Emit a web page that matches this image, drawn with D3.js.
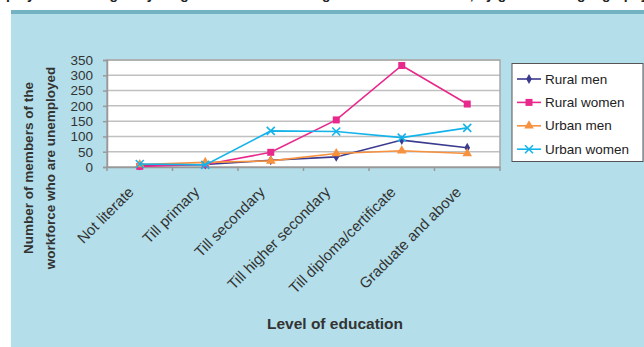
<!DOCTYPE html>
<html><head><meta charset="utf-8">
<script src="https://cdn.jsdelivr.net/npm/d3@7"></script>
<style>body{margin:0;background:#fff;}svg{display:block;font-family:Arial,"Liberation Sans",sans-serif;}</style>
</head><body><svg id="c" width="644" height="347"></svg>
<script>
const categories = ["Not literate","Till primary","Till secondary","Till higher secondary","Till diploma/certificate","Graduate and above"];
const seriesNames = ["Rural men","Rural women","Urban men","Urban women"];
const ruralMen   = [5, 8, 22, 33, 88, 63];
const ruralWomen = [2, 8, 48, 154, 332, 206];
const urbanMen   = [8, 15, 20, 44, 53, 44];
const urbanWomen = [10, 7, 118, 116, 96, 128];
const yTicks = [0,50,100,150,200,250,300,350];
const colors = ["#3A3A8E","#E8288C","#F7913D","#14B4EA"];
const markers = ["diamond","square","triangle","x"];
const seriesVals = [ruralMen, ruralWomen, urbanMen, urbanWomen];

const svg = d3.select("#c");
// background
svg.append("rect").attr("x",11).attr("y",14).attr("width",633).attr("height",333).attr("fill","#B4DFEA");
svg.append("rect").attr("x",11).attr("y",10).attr("width",633).attr("height",4).attr("fill","#73B3C1");
// title, cut off at the top edge as in the reference (only descenders visible)
svg.append("text").attr("x",335).attr("y",-1.5).attr("text-anchor","middle")
  .attr("font-size",14).attr("font-weight","bold").attr("fill","#222")
  .text("Figure 3: Unemployment among the young workforce according to level of education, by gender and geography, 15–29 age group");

const L=107,R=500,T=60,B=167;
const x = d3.scaleBand().domain(categories).range([L,R]);
const y = d3.scaleLinear().domain([0,350]).range([B,T]);

svg.append("rect").attr("x",L).attr("y",T).attr("width",R-L).attr("height",B-T).attr("fill","#fff");
// gridlines
svg.append("g").selectAll("line").data(yTicks.filter(d=>d>0)).join("line")
  .attr("x1",L).attr("x2",R).attr("y1",d=>y(d)).attr("y2",d=>y(d))
  .attr("stroke","#C0C0C0").attr("stroke-width",1.5);
svg.append("rect").attr("x",L).attr("y",T).attr("width",R-L).attr("height",B-T)
  .attr("fill","none").attr("stroke","#A8A8A8").attr("stroke-width",1.5);

// y axis
const ya = svg.append("g").attr("transform",`translate(${L},0)`)
  .call(d3.axisLeft(y).tickValues(yTicks).tickSize(4).tickPadding(10));
ya.select(".domain").attr("stroke","#999").attr("stroke-width",1.5);
ya.selectAll(".tick line").attr("stroke","#999").attr("stroke-width",1.5);
ya.selectAll("text").attr("font-size",13.5).attr("fill","#333").attr("font-family","Arial,'Liberation Sans',sans-serif");

// x axis
const xa = svg.append("g").attr("transform",`translate(0,${B})`)
  .call(d3.axisBottom(x).tickSize(0).tickPadding(0));
xa.select(".domain").attr("stroke","#999").attr("stroke-width",1.5);
xa.selectAll(".tick text").attr("font-size",15).attr("fill","#333")
  .attr("font-family","Arial,'Liberation Sans',sans-serif")
  .attr("text-anchor","end").attr("dy",0)
  .attr("transform","translate(-5,26) rotate(-45)");
// boundary ticks
const bounds = categories.map(c=>x(c)).concat([R]);
svg.append("g").selectAll("line").data(bounds).join("line")
  .attr("x1",d=>d).attr("x2",d=>d).attr("y1",B).attr("y2",B+4)
  .attr("stroke","#999").attr("stroke-width",1.5);

// axis titles
svg.append("text").attr("transform","translate(33,168) rotate(-90)").attr("text-anchor","middle")
  .attr("font-size",13.5).attr("font-weight","bold").attr("fill","#333").text("Number of members of the");
svg.append("text").attr("transform","translate(55,168) rotate(-90)").attr("text-anchor","middle")
  .attr("font-size",13.5).attr("font-weight","bold").attr("fill","#333").text("workforce who are unemployed");
svg.append("text").attr("x",335).attr("y",329).attr("text-anchor","middle")
  .attr("font-size",15.5).attr("font-weight","bold").attr("fill","#333").text("Level of education");

function drawMarker(g, type, cx, cy, color){
  if(type==="diamond"){
    g.append("path").attr("d",d3.symbol(d3.symbolDiamond,28)()).attr("transform",`translate(${cx},${cy})`).attr("fill",color);
  } else if(type==="square"){
    g.append("rect").attr("x",cx-3.5).attr("y",cy-3.5).attr("width",7).attr("height",7).attr("fill",color);
  } else if(type==="triangle"){
    g.append("path").attr("d",d3.symbol(d3.symbolTriangle,40)()).attr("transform",`translate(${cx},${cy})`).attr("fill",color);
  } else {
    g.append("path").attr("d",`M${cx-4},${cy-4}L${cx+4},${cy+4}M${cx-4},${cy+4}L${cx+4},${cy-4}`)
      .attr("stroke",color).attr("stroke-width",1.6).attr("fill","none");
  }
}

const line = d3.line().x((d,i)=>x(categories[i])+x.bandwidth()/2).y(d=>y(d));
seriesVals.forEach((vals,si)=>{
  const g = svg.append("g");
  g.append("path").datum(vals).attr("d",line).attr("fill","none")
    .attr("stroke",colors[si]).attr("stroke-width",1.6);
  vals.forEach((v,i)=>drawMarker(g, markers[si], x(categories[i])+x.bandwidth()/2, y(v), colors[si]));
});

// legend
svg.append("rect").attr("x",512).attr("y",63.5).attr("width",131).attr("height",98)
  .attr("fill","#fff").attr("stroke","#555").attr("stroke-width",1);
seriesNames.forEach((n,i)=>{
  const ly = 79 + i*23.4;
  const g = svg.append("g");
  g.append("line").attr("x1",517).attr("x2",541).attr("y1",ly).attr("y2",ly).attr("stroke",colors[i]).attr("stroke-width",1.6);
  drawMarker(g, markers[i], 529, ly, colors[i]);
  g.append("text").attr("x",545).attr("y",ly+4.5).attr("font-size",13.5).attr("fill","#222").text(n);
});
</script></body></html>
